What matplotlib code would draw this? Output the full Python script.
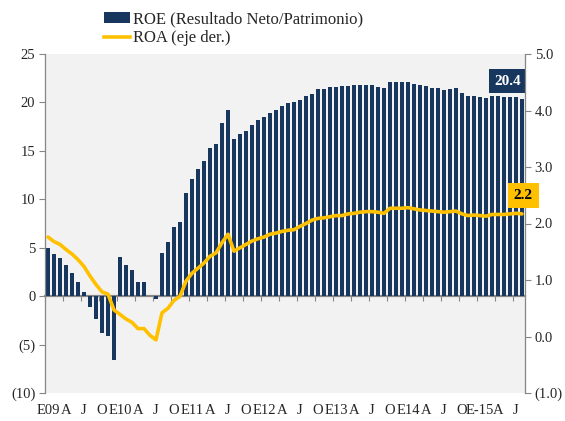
import matplotlib
matplotlib.use("Agg")
import matplotlib.pyplot as plt
from matplotlib.patches import Patch
from matplotlib.lines import Line2D
import numpy as np

plt.rcParams['font.family'] = ['Liberation Serif', 'DejaVu Serif']

# Monthly data, Jan 2009 - Aug 2015
roe = [5.0, 4.3, 3.9, 3.2, 2.4, 1.45, 0.4, -1.1, -2.4, -3.8, -4.1, -6.6,
       4.0, 3.2, 2.75, 1.5, 1.5, 0.05, -0.3, 4.5, 5.6, 7.1, 7.65, 10.7,
       12.1, 13.15, 14.0, 15.3, 15.7, 17.9, 19.25, 16.25, 16.7, 17.05, 17.7, 18.15,
       18.45, 18.9, 19.2, 19.65, 19.94, 20.0, 20.28, 20.7, 20.9, 21.35, 21.4, 21.6,
       21.6, 21.7, 21.7, 21.8, 21.8, 21.8, 21.8, 21.6, 21.5, 22.1, 22.1, 22.1,
       22.1, 21.9, 21.8, 21.7, 21.5, 21.45, 21.3, 21.4, 21.5, 21.0, 20.7, 20.7,
       20.6, 20.5, 20.7, 20.65, 20.55, 20.55, 20.55, 20.4]
roa = [1.76, 1.68, 1.63, 1.54, 1.46, 1.36, 1.24, 1.07, 0.92, 0.79, 0.75, 0.47,
       0.39, 0.31, 0.25, 0.14, 0.14, 0.02, -0.06, 0.42, 0.50, 0.64, 0.71, 0.98,
       1.12, 1.21, 1.30, 1.42, 1.48, 1.66, 1.81, 1.51, 1.57, 1.63, 1.69, 1.73,
       1.76, 1.81, 1.83, 1.86, 1.88, 1.89, 1.95, 2.0, 2.06, 2.09, 2.10, 2.12,
       2.14, 2.14, 2.17, 2.18, 2.20, 2.21, 2.21, 2.20, 2.18, 2.27, 2.27, 2.27,
       2.28, 2.26, 2.24, 2.23, 2.22, 2.21, 2.20, 2.21, 2.22, 2.17, 2.14, 2.15,
       2.14, 2.13, 2.16, 2.16, 2.16, 2.17, 2.18, 2.17]
xlabels = ["E09", "A", "J", "O", "E10", "A", "J", "O", "E11", "A", "J", "O",
           "E12", "A", "J", "O", "E13", "A", "J", "O", "E14", "A", "J", "O",
           "E-15", "A", "J"]
left_ticks = [-10, -5, 0, 5, 10, 15, 20, 25]
left_ticklabels = ["(10)", "(5)", "0", "5", "10", "15", "20", "25"]
right_ticks = [-1, 0, 1, 2, 3, 4, 5]
right_ticklabels = ["(1.0)", "0.0", "1.0", "2.0", "3.0", "4.0", "5.0"]

navy = "#17375E"
gold = "#FFC000"
gray = "#868686"

fig = plt.figure(figsize=(5.65, 4.21), dpi=100)
ax = fig.add_axes([45/565, 28/421, 480/565, 339/421])
ax.set_facecolor("#F2F2F2")
x = np.arange(len(roe))
ax.bar(x, roe, width=0.52, color=navy, zorder=2)
ax.set_xlim(-0.5, len(roe) - 0.5)
ax.set_ylim(-10, 25)
ax.set_yticks(left_ticks)
ax.set_yticklabels(left_ticklabels)
ax.set_xticks(x[::3])
ax.set_xticklabels(xlabels)
ax.tick_params(axis='x', length=0, pad=8, labelsize=10.5, colors="#262626")
ax.tick_params(axis='y', length=4, width=0.8, color=gray, labelsize=10.5,
               labelcolor="#262626", pad=3)
for s in ["top", "bottom", "right"]:
    ax.spines[s].set_visible(False)
ax.spines["left"].set_color(gray)
ax.spines["left"].set_linewidth(0.9)

# zero axis with quarterly tick marks
sec = ax.secondary_xaxis(10/35)
sec.set_xticks(np.arange(-0.5, len(roe), 3))
sec.tick_params(length=3.5, width=0.8, color=gray, labelbottom=False)
sec.spines["bottom"].set_color(gray)
sec.spines["bottom"].set_linewidth(1.6)

ax2 = ax.twinx()
ax2.plot(x, roa, color=gold, linewidth=2.6, solid_capstyle='round', zorder=3)
ax2.set_ylim(-1, 5)
ax2.set_yticks(right_ticks)
ax2.set_yticklabels(right_ticklabels)
ax2.tick_params(axis='y', length=4, width=0.8, color=gray, labelsize=10.5,
                labelcolor="#262626", pad=3)
for s in ["top", "bottom", "left"]:
    ax2.spines[s].set_visible(False)
ax2.spines["right"].set_color(gray)
ax2.spines["right"].set_linewidth(0.9)

# value labels
ax.text(x[-1] - 2.4, roe[-1] + 1.8, f"{roe[-1]:.1f}", color="white",
        fontsize=11, fontweight="bold", ha="center", va="center",
        bbox=dict(boxstyle="square,pad=0.35", fc=navy, ec="none"), zorder=5)
ax2.text(x[-1] + 0.2, roa[-1] + 0.33, f"{roa[-1]:.1f}", color="black",
         fontsize=11, fontweight="bold", ha="center", va="center",
         bbox=dict(boxstyle="square,pad=0.4", fc=gold, ec="none"), zorder=5,
         clip_on=False)

handles = [Patch(facecolor=navy, edgecolor="none"),
           Line2D([0], [0], color=gold, linewidth=2.6)]
fig.legend(handles, ["ROE (Resultado Neto/Patrimonio)", "ROA (eje der.)"],
           loc="upper left", bbox_to_anchor=(92/565, 1.0), frameon=False,
           fontsize=12, handlelength=1.6, handleheight=0.6, handletextpad=0.15,
           labelspacing=0.15, borderaxespad=0.3, labelcolor="#262626")

fig.savefig("out.png", dpi=100, facecolor="white")
